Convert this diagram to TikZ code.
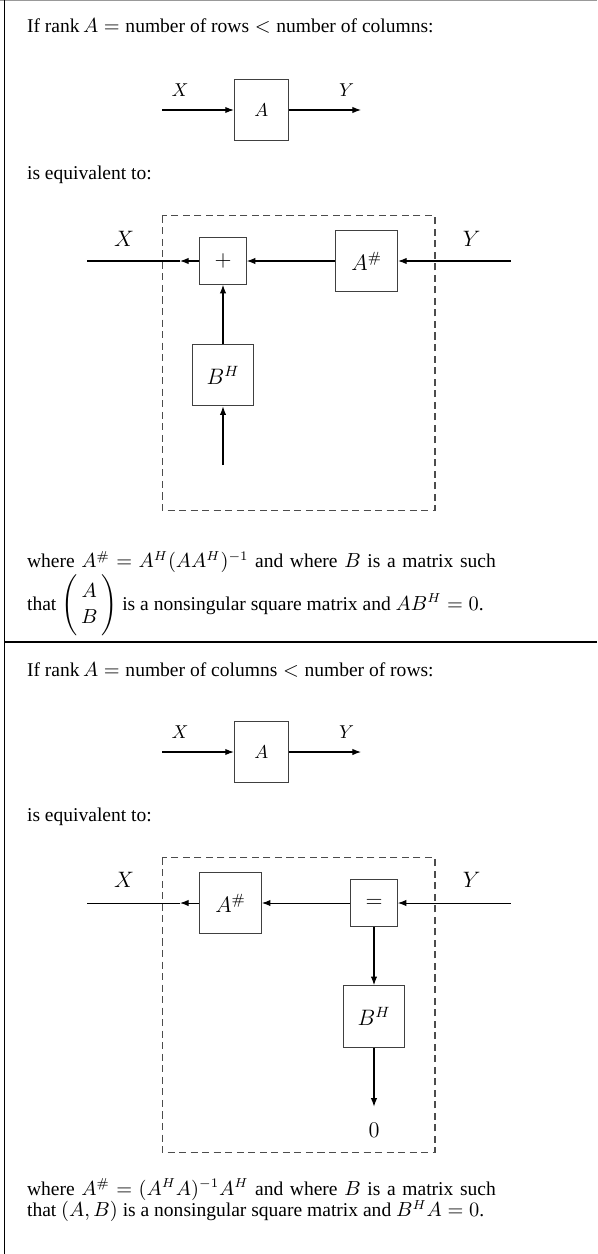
\documentclass[tikz,border=0pt]{standalone}
\usepackage{amsmath}
\usepackage[no-math]{fontspec}
\setmainfont{Liberation Serif}
\usetikzlibrary{arrows.meta,positioning}
\tikzset{
  diagFont/.style={font=\fontsize{12}{14}\selectfont},
  smallFont/.style={font=\fontsize{10}{12}\selectfont},
  blockBox/.style={diagFont, draw=black!75, line width=0.55pt, minimum width=33.2pt, minimum height=33.2pt, inner sep=0pt},
  gainBox/.style={blockBox, smallFont, minimum width=29pt, minimum height=33pt},
  joinBox/.style={blockBox, minimum width=25pt, minimum height=25pt},
  sigArrow/.style={-{Latex[length=4.6pt,width=3.4pt]}, line width=0.55pt},
  sigLine/.style={line width=0.55pt},
  sigLabel/.style={diagFont, inner sep=0pt},
  dashFrame/.style={draw=black!70, line width=0.55pt, dash pattern=on 3.8pt off 2.4pt},
  bodyText/.style={anchor=base west, inner sep=0pt, font=\fontsize{10.5}{11.8}\selectfont},
  paraText/.style={bodyText, text width=252pt, align=justify}
}
\begin{document}
\begin{tikzpicture}[x=0.5376pt,y=-0.5376pt]
  \useasboundingbox (0,0) rectangle (597,1254);
  % table rules
  \draw[black!40, line width=0.6pt] (0,0.5) -- (597,0.5);
  \draw[line width=0.6pt] (4.5,0) -- (4.5,1254);
  \draw[line width=1.1pt] (4.5,642) -- (597,642);

  % rank A = number of rows
  \node[bodyText] (headA) at (26.7,32.3) {If $\text{rank}\,A = \text{number of rows} < \text{number of columns}$:};
  \node[gainBox] (boxA) at (261.3,110) {$A$};
  \coordinate (inA) at (162.3,110);
  \coordinate (outA) at (361,110);
  \draw[sigArrow] (inA) -- (boxA);
  \draw[sigArrow] (boxA) -- (outA);
  \node[sigLabel, smallFont] (labXa) at (180,90) {$X$};
  \node[sigLabel, smallFont] (labYa) at (346.7,90) {$Y$};

  \node[bodyText] (eqvA) at (26.7,179.3) {is equivalent to:};
  \draw[dashFrame] (162.3,215.7) rectangle (435,510.3);
  \node[joinBox] (plusBox) at (223,261) {$+$};
  \node[blockBox] (aSharpA) at (366.7,261) {$A^{\#}$};
  \node[blockBox] (bHermA) at (223,375) {$B^H$};
  \coordinate (yInA) at (510.7,261);
  \coordinate (xTipA) at (180,261);
  \coordinate (xEndA) at (87.3,261);
  \coordinate (bInA) at (223,465);
  \draw[sigArrow] (yInA) -- (aSharpA);
  \draw[sigArrow] (aSharpA) -- (plusBox);
  \draw[sigArrow] (plusBox) -- (xTipA);
  \draw[sigLine] (xTipA) -- (xEndA);
  \draw[sigArrow] (bInA) -- (bHermA);
  \draw[sigArrow] (bHermA) -- (plusBox);
  \node[sigLabel] (labXb) at (124,239) {$X$};
  \node[sigLabel] (labYb) at (471.7,239) {$Y$};

  \node[paraText] (noteA) at (26.7,567.5) {\setlength{\lineskip}{1.5pt}\thickmuskip=5mu plus 1mu
    where $A^{\#} = A^H(AA^H)^{-1}$ and where $B$ is a matrix such\linebreak
    that $\renewcommand{\arraystretch}{1.2}\setlength{\arraycolsep}{2pt}\delimitershortfall=-1pt
    \left(\begin{array}{c} A\\ B\end{array}\right)$ is a nonsingular square matrix and $AB^H = 0$.};

  % rank A = number of columns
  \node[bodyText] (headB) at (26.7,676.5) {If $\text{rank}\,A = \text{number of columns} < \text{number of rows}$:};
  \node[gainBox] (boxB) at (261.3,752) {$A$};
  \coordinate (inB) at (162.3,752);
  \coordinate (outB) at (361,752);
  \draw[sigArrow] (inB) -- (boxB);
  \draw[sigArrow] (boxB) -- (outB);
  \node[sigLabel, smallFont] (labXc) at (180,732) {$X$};
  \node[sigLabel, smallFont] (labYc) at (346.7,732) {$Y$};

  \node[bodyText] (eqvB) at (26.7,821.5) {is equivalent to:};
  \draw[dashFrame] (162.3,857.7) rectangle (435,1152.3);
  \node[blockBox] (aSharpB) at (230.5,903) {$A^{\#}$};
  \node[joinBox] (eqBox) at (374,903) {$=$};
  \node[blockBox] (bHermB) at (374,1016.5) {$B^H$};
  \coordinate (yInB) at (510.7,903);
  \coordinate (xTipB) at (180,903);
  \coordinate (xEndB) at (87.3,903);
  \coordinate (zeroTip) at (374,1106.7);
  \draw[sigArrow] (yInB) -- (eqBox);
  \draw[sigArrow] (eqBox) -- (aSharpB);
  \draw[sigArrow] (aSharpB) -- (xTipB);
  \draw[sigLine] (xTipB) -- (xEndB);
  \draw[sigArrow] (eqBox) -- (bHermB);
  \draw[sigArrow] (bHermB) -- (zeroTip);
  \node[sigLabel] (zeroOut) at (374,1130) {$0$};
  \node[sigLabel] (labXd) at (124,880) {$X$};
  \node[sigLabel] (labYd) at (471.7,880) {$Y$};

  \node[paraText] (noteB) at (26.7,1195) {\thickmuskip=5mu plus 1mu
    where $A^{\#} = (A^HA)^{-1}A^H$ and where $B$ is a matrix such\linebreak
    that $(A,B)$ is a nonsingular square matrix and $B^HA = 0$.};
\end{tikzpicture}
\end{document}
